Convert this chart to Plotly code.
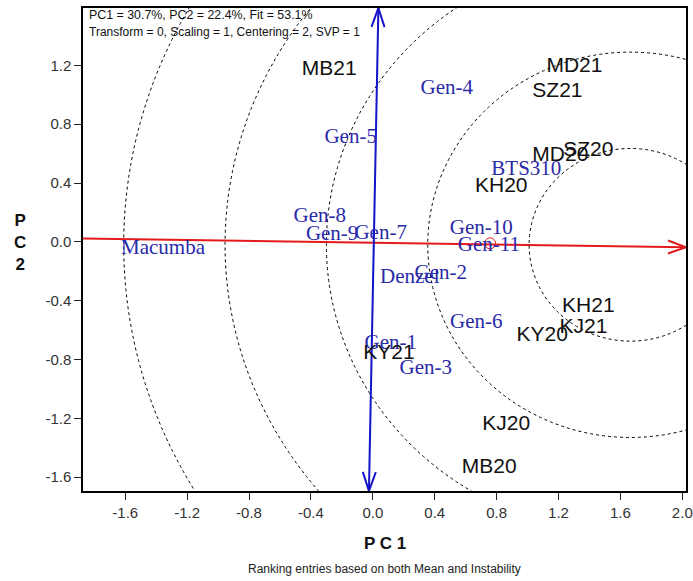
import plotly.graph_objects as go
import math

# ---------------- data ----------------
env_names = ["MB21", "MD21", "SZ21", "MD20", "SZ20", "KH20", "KH21", "KJ21", "KY20", "KY21", "KJ20", "MB20"]
env_x = [-0.282, 1.303, 1.193, 1.212, 1.393, 0.83, 1.393, 1.361, 1.095, 0.104, 0.862, 0.752]
env_y = [1.167, 1.188, 1.018, 0.588, 0.622, 0.377, -0.441, -0.584, -0.639, -0.761, -1.241, -1.539]

gen_names = ["Gen-4", "Gen-5", "BTS310", "Gen-8", "Gen-9", "Gen-7", "Gen-10", "Gen-11",
             "Macumba", "Denzel", "Gen-2", "Gen-6", "Gen-1", "Gen-3"]
gen_x = [0.478, -0.143, 0.992, -0.343, -0.263, 0.051, 0.701, 0.75, -1.356, 0.239, 0.439, 0.669, 0.116, 0.342]
gen_y = [1.039, 0.71, 0.492, 0.172, 0.05, 0.057, 0.091, -0.025, -0.046, -0.243, -0.216, -0.552, -0.693, -0.863]

# average environment axis (red) and its perpendicular (blue)
aea_x = [-1.873, 2.024]
aea_y = [0.0225, -0.037]
ata_x = [0.036, -0.025]
ata_y = [1.59, -1.694]

avg_env_x = [0.758]
avg_env_y = [-0.01]

ideal_x = 1.665
ideal_y = -0.02
circle_radii = [0.655, 1.31, 1.965, 2.62, 3.275]

x_ticks = [-1.6, -1.2, -0.8, -0.4, 0.0, 0.4, 0.8, 1.2, 1.6, 2.0]
y_ticks = [-1.6, -1.2, -0.8, -0.4, 0.0, 0.4, 0.8, 1.2]

header1 = "PC1 = 30.7%, PC2 = 22.4%, Fit = 53.1%"
header2 = "Transform = 0, Scaling = 1, Centering = 2, SVP = 1"
caption = "Ranking entries based on both Mean and Instability"

# ---------------- layout geometry ----------------
W, H = 693, 581
ML, MR, MT, MB = 83, 7, 8, 90
xr = [-1.873, 2.024]
yr = [-1.694, 1.59]
sx = (W - ML - MR) / (xr[1] - xr[0])
sy = (H - MT - MB) / (yr[1] - yr[0])

SANS = "Liberation Sans, Arial, sans-serif"
SERIF = "Liberation Serif, Times New Roman, serif"
RED = "#e41a1c"
BLUE = "#1414c8"
GENC = "#2a2aa8"


def vhead(x_from, y_from, x_tip, y_tip, L=18, Wd=6.5):
    dx = (x_tip - x_from) * sx
    dy = (y_tip - y_from) * sy
    n = math.hypot(dx, dy)
    ux, uy = dx / n, dy / n
    px, py = -uy, ux
    bx = -ux * L
    by = -uy * L
    a1 = (x_tip + (bx + px * Wd) / sx, y_tip + (by + py * Wd) / sy)
    a2 = (x_tip + (bx - px * Wd) / sx, y_tip + (by - py * Wd) / sy)
    return [a1[0], x_tip, a2[0]], [a1[1], y_tip, a2[1]]


fig = go.Figure()

# concentric circles
shapes = []
for r in circle_radii:
    shapes.append(dict(type="circle", xref="x", yref="y",
                       x0=ideal_x - r, x1=ideal_x + r, y0=ideal_y - r, y1=ideal_y + r,
                       line=dict(color="black", width=1, dash="3px,3px"), layer="below"))

# red AEA line with arrow
fig.add_trace(go.Scatter(x=aea_x, y=aea_y, mode="lines", line=dict(color=RED, width=2),
                         hoverinfo="skip", showlegend=False, cliponaxis=False))
hx, hy = vhead(aea_x[0], aea_y[0], aea_x[1], aea_y[1])
fig.add_trace(go.Scatter(x=hx, y=hy, mode="lines", line=dict(color=RED, width=2),
                         hoverinfo="skip", showlegend=False, cliponaxis=False))

# blue ATA line with arrows on both ends
fig.add_trace(go.Scatter(x=ata_x, y=ata_y, mode="lines", line=dict(color=BLUE, width=2),
                         hoverinfo="skip", showlegend=False, cliponaxis=False))
hx, hy = vhead(ata_x[1], ata_y[1], ata_x[0], ata_y[0], L=19)
fig.add_trace(go.Scatter(x=hx, y=hy, mode="lines", line=dict(color=BLUE, width=2),
                         hoverinfo="skip", showlegend=False, cliponaxis=False))
hx, hy = vhead(ata_x[0], ata_y[0], ata_x[1], ata_y[1], L=19)
fig.add_trace(go.Scatter(x=hx, y=hy, mode="lines", line=dict(color=BLUE, width=2),
                         hoverinfo="skip", showlegend=False, cliponaxis=False))

# average environment small circle
fig.add_trace(go.Scatter(x=avg_env_x, y=avg_env_y, mode="markers",
                         marker=dict(symbol="circle-open", size=11, color=RED, line=dict(width=1)),
                         hoverinfo="skip", showlegend=False))

# genotype labels
fig.add_trace(go.Scatter(x=gen_x, y=gen_y, mode="text", text=gen_names,
                         textposition="middle center",
                         textfont=dict(family=SERIF, size=21, color=GENC),
                         showlegend=False))
# environment labels
fig.add_trace(go.Scatter(x=env_x, y=env_y, mode="text", text=env_names,
                         textposition="middle center",
                         textfont=dict(family=SANS, size=21, color="#111111"),
                         showlegend=False))

annotations = [
    dict(xref="paper", yref="paper", x=(87 - ML) / (W - ML - MR), y=(H - MB - 15) / (H - MT - MB),
         xanchor="left", yanchor="middle", text=header1, showarrow=False,
         font=dict(family=SANS, size=12.4, color="#111111")),
    dict(xref="paper", yref="paper", x=(87 - ML) / (W - ML - MR), y=(H - MB - 32) / (H - MT - MB),
         xanchor="left", yanchor="middle", text=header2, showarrow=False,
         font=dict(family=SANS, size=12, color="#111111")),
    dict(xref="paper", yref="paper", x=0.5, y=(H - MB - 543) / (H - MT - MB),
         xanchor="center", yanchor="middle", text="<b>P C 1</b>", showarrow=False,
         font=dict(family=SANS, size=17, color="#111111")),
    dict(xref="paper", yref="paper", x=(20 - ML) / (W - ML - MR), y=(H - MB - 243) / (H - MT - MB),
         xanchor="center", yanchor="middle", text="<b>P<br>C<br>2</b>", showarrow=False,
         font=dict(family=SANS, size=17, color="#111111")),
    dict(xref="paper", yref="paper", x=0.5, y=(H - MB - 569) / (H - MT - MB),
         xanchor="center", yanchor="middle", text=caption, showarrow=False,
         font=dict(family=SANS, size=12, color="#222222")),
]

axis_common = dict(showgrid=False, zeroline=False, showline=True, linecolor="black", linewidth=1.5,
                   mirror=True, ticks="outside", ticklen=7, tickwidth=1, tickcolor="#222222",
                   automargin=False,
                   tickfont=dict(family=SANS, size=15, color="#333333"))

fig.update_layout(
    width=W, height=H,
    margin=dict(l=ML, r=MR, t=MT, b=MB, autoexpand=False),
    paper_bgcolor="white", plot_bgcolor="white",
    xaxis=dict(range=xr, tickvals=x_ticks, ticktext=[f"{v:.1f}" for v in x_ticks], **axis_common),
    yaxis=dict(range=yr, tickvals=y_ticks, ticktext=[f"{v:.1f}" for v in y_ticks], **axis_common),
    shapes=shapes,
    annotations=annotations,
    showlegend=False,
)

fig.write_html("out.html", config={"displayModeBar": False},
               post_script="document.body.style.margin='0px';document.body.style.padding='0px';")
